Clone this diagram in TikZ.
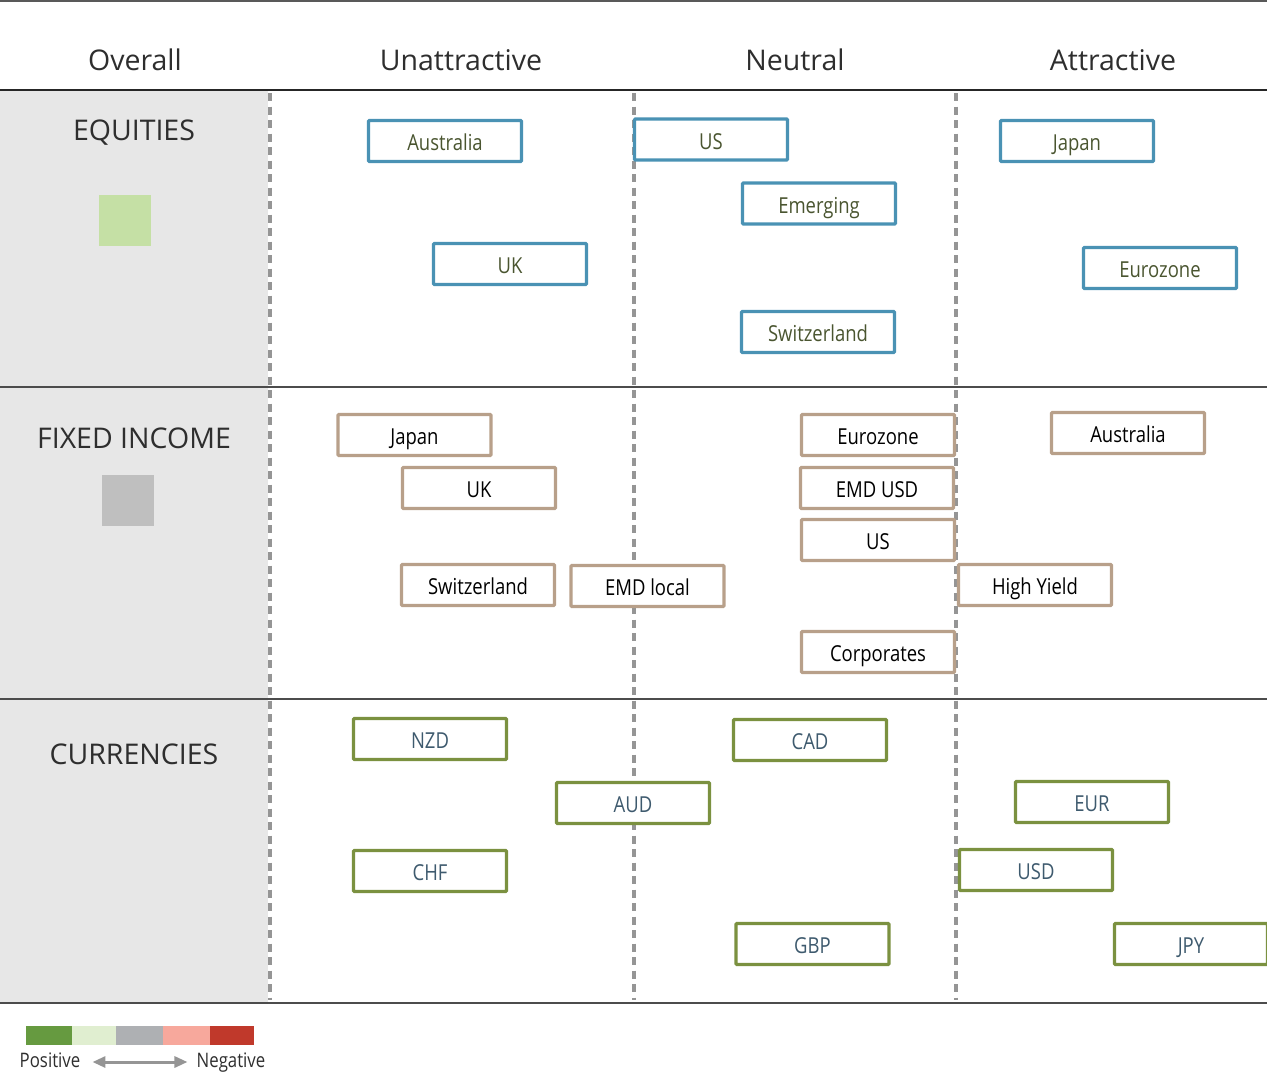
\documentclass[tikz,border=0pt]{standalone}
\usepackage{fontspec}
\setmainfont{Open Sans}
\newfontfamily\boxfont[FakeStretch=0.84]{Open Sans}
\usetikzlibrary{arrows.meta}
\definecolor{panel}{HTML}{E7E7E7}
\definecolor{dashgray}{HTML}{959595}
\definecolor{eqblue}{HTML}{4A92B4}
\definecolor{fitan}{HTML}{B8A08A}
\definecolor{fxgreen}{HTML}{7B9140}
\definecolor{eqtext}{HTML}{4A5530}
\definecolor{fxtext}{HTML}{3E5A6E}
\definecolor{hdr}{HTML}{2E2E2E}
\definecolor{eqsq}{HTML}{C5E0A5}
\definecolor{fisq}{HTML}{BFBFBF}
\definecolor{lg1}{HTML}{669A40}
\definecolor{lg2}{HTML}{E0EED0}
\definecolor{lg3}{HTML}{AEB0B3}
\definecolor{lg4}{HTML}{F7A89C}
\definecolor{lg5}{HTML}{C0392B}
\tikzset{
  header/.style={text=hdr, font=\fontsize{28.5}{34}\selectfont, inner sep=0pt},
  section/.style={text=hdr, font=\fontsize{28.5}{34}\selectfont, inner sep=0pt},
  abox/.style={draw, fill=white, line width=3.4pt, minimum width=153pt, minimum height=41pt, inner sep=0pt, text height=23pt, text depth=3.3pt, rounded corners=1pt, font=\boxfont\fontsize{22}{26}\selectfont},
  eqbox/.style={abox, draw=eqblue, text=eqtext},
  fibox/.style={abox, draw=fitan, text=black},
  fxbox/.style={abox, draw=fxgreen, text=fxtext},
  divider/.style={dashgray, line width=3.5pt, dash pattern=on 8pt off 5.5pt},
  rule/.style={draw=black!70, line width=1.4pt},
  legtext/.style={text=hdr, font=\boxfont\fontsize{20}{24}\selectfont, inner sep=0pt, text height=15pt, text depth=4pt},
  legarrow/.style={draw=dashgray, line width=3pt, {Triangle[length=13pt,width=11pt]}-{Triangle[length=13pt,width=11pt]}}
}
\begin{document}
\begin{tikzpicture}[x=1pt,y=-1pt]
\useasboundingbox (0,0) rectangle (1267,1077);
% left panel
\fill[panel] (0,91) rectangle (268,1002);
% rules
\draw[rule, draw=black!65] (0,1) -- (1267,1);
\draw[draw=black!85, line width=1.2pt] (0,90) -- (1267,90);
\draw[rule] (0,387) -- (1267,387);
\draw[rule] (0,699) -- (1267,699);
\draw[rule, line width=2pt] (0,1003) -- (1267,1003);
% dividers
\draw[divider] (270,93) -- (270,1000);
\draw[divider] (634,93) -- (634,1000);
\draw[divider] (956,93) -- (956,1000);
% headers
\node[header] (hOverall) at (135,60) {Overall};
\node[header] (hUnatt) at (461,60) {Unattractive};
\node[header] (hNeutral) at (795,60) {Neutral};
\node[header] (hAttr) at (1113,60) {Attractive};
% sections
\node[section] (sEq) at (134,133) {EQUITIES};
\node[section] (sFi) at (134,438) {FIXED INCOME};
\node[section] (sFx) at (134,754) {CURRENCIES};
\fill[eqsq] (99,195) rectangle (151,246);
\fill[fisq] (102,475) rectangle (154,526);
% equities
\node[eqbox] (eAus) at (445,141) {Australia};
\node[eqbox] (eUS) at (711,139.5) {US};
\node[eqbox] (eJap) at (1077,141) {Japan};
\node[eqbox] (eEm) at (819,203.5) {Emerging};
\node[eqbox] (eUK) at (510,264) {UK};
\node[eqbox] (eEuro) at (1160,268) {Eurozone};
\node[eqbox] (eSwi) at (818,332) {Switzerland};
% fixed income
\node[fibox] (fJap) at (414.5,435) {Japan};
\node[fibox] (fEuro) at (878,435) {Eurozone};
\node[fibox] (fAus) at (1128,433) {Australia};
\node[fibox] (fUK) at (479,488) {UK};
\node[fibox] (fEmdU) at (877,488) {EMD USD};
\node[fibox] (fUS) at (878,540) {US};
\node[fibox] (fSwi) at (478,585) {Switzerland};
\node[fibox] (fEmdL) at (647.5,586) {EMD local};
\node[fibox] (fHY) at (1035,585) {High Yield};
\node[fibox] (fCorp) at (878,652) {Corporates};
% currencies
\node[fxbox] (cNZD) at (430,739) {NZD};
\node[fxbox] (cCAD) at (810,740) {CAD};
\node[fxbox] (cAUD) at (633,803) {AUD};
\node[fxbox] (cEUR) at (1092,802) {EUR};
\node[fxbox] (cCHF) at (430,871) {CHF};
\node[fxbox] (cUSD) at (1036,870) {USD};
\node[fxbox] (cGBP) at (812.5,944) {GBP};
\node[fxbox] (cJPY) at (1191,944) {JPY};
% legend
\fill[lg1] (26,1026) rectangle (72,1045);
\fill[lg2] (72,1026) rectangle (116,1045);
\fill[lg3] (116,1026) rectangle (163,1045);
\fill[lg4] (163,1026) rectangle (210,1045);
\fill[lg5] (210,1026) rectangle (254,1045);
\node[legtext] (pos) at (50,1062) {Positive};
\node[legtext] (neg) at (231,1062) {Negative};
\draw[legarrow, shorten <=12pt, shorten >=9pt] (pos.east) -- (neg.west);
\end{tikzpicture}
\end{document}
